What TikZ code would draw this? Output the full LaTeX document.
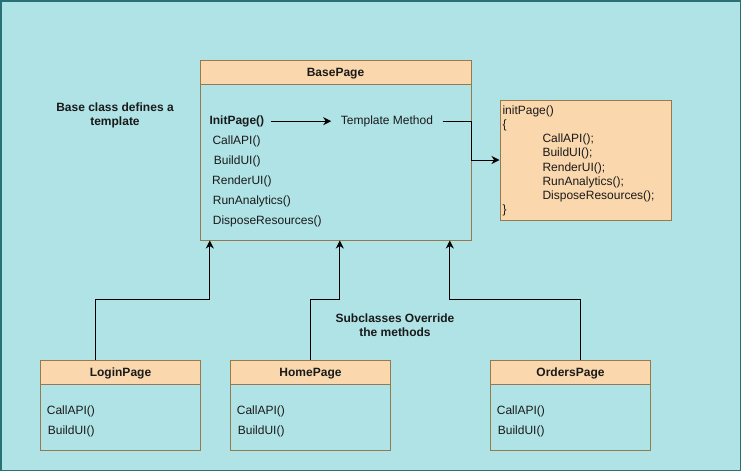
\documentclass[tikz,border=0pt]{standalone}
\usepackage{fontspec}
\setmainfont{Liberation Sans}
\usetikzlibrary{arrows.meta,calc}
\definecolor{bgc}{HTML}{B0E3E6}
\definecolor{frame}{HTML}{2A7176}
\definecolor{hdrfill}{HTML}{FAD7AC}
\definecolor{boxline}{HTML}{957A4E}
\definecolor{ink}{HTML}{1A1A1A}
\tikzset{
  hdr/.style={draw=boxline, fill=hdrfill, line width=1pt, minimum width=160pt, minimum height=24pt, inner sep=0pt, text height=8.6pt, text depth=0pt, font=\bfseries\fontsize{12}{14.2}\selectfont, text=ink},
  bodybox/.style={draw=boxline, line width=1pt, minimum width=160pt, inner sep=0pt},
  txt/.style={anchor=base west, inner sep=0pt, text=ink},
  lbl/.style={align=center, inner sep=0pt, text=ink, font=\bfseries\fontsize{12}{14}\selectfont},
  arr/.style={draw=black, line width=1pt, -{Stealth[length=8pt,width=8pt,inset=2.5pt]}},
}
\begin{document}
\begin{tikzpicture}[x=1pt,y=-1pt, font=\fontsize{12}{14.2}\selectfont]
\fill[bgc] (0,0) rectangle (741,471);
\draw[frame, line width=1.5pt] (0.75,0.75) rectangle (740.25,470.25);
\useasboundingbox (0,0) rectangle (741,471);

% BasePage
\node[hdr, minimum width=271pt, minimum height=23.5pt] (baseH) at (335.5,72.3) {BasePage};
\node[bodybox, minimum width=271pt, minimum height=156pt] (baseB) at (335.5,162) {};
\node[txt, font=\bfseries\fontsize{12}{14.2}\selectfont] (iP) at (209.3,124.3) {InitPage()};
\node[txt] (tm) at (340.7,124.3) {Template Method};
\node[txt] (b1) at (212.3,144.3) {CallAPI()};
\node[txt] (b2) at (213.7,164.3) {BuildUI()};
\node[txt] (b3) at (212.0,184.3) {RenderUI()};
\node[txt] (b4) at (212.7,204.3) {RunAnalytics()};
\node[txt] (b5) at (212.7,224.3) {DisposeResources()};
\draw[arr, shorten <=6.5pt, shorten >=9.5pt] (iP.east) -- (tm.west |- iP.east);

% code box
\node[draw=boxline, fill=hdrfill, line width=1pt, minimum width=171pt, minimum height=120pt, inner sep=0pt] (code) at (585.5,160) {};
\node[txt] (c0) at (502.3,114.3) {initPage()};
\node[txt] (c1) at (502.3,128.5) {\{};
\node[txt] (c2) at (542.3,142.7) {CallAPI();};
\node[txt] (c3) at (542.3,156.9) {BuildUI();};
\node[txt] (c4) at (542.3,171.1) {RenderUI();};
\node[txt] (c5) at (542.3,185.3) {RunAnalytics();};
\node[txt] (c6) at (542.3,199.5) {DisposeResources();};
\node[txt] (c7) at (502.3,213.7) {\}};
\draw[arr, shorten <=9.4pt] (tm.east |- iP.east) -- ($(baseB.east |- iP.east)$) |- (code.west);

% labels
\node[lbl] (lb1) at (115,115.3) {Base class defines a\\template};
\node[lbl] (lb2) at (395,325) {Subclasses Override\\the methods};

% subclasses
\node[hdr] (loginH) at (120.5,372) {LoginPage};
\node[bodybox, minimum height=66pt] (loginB) at (120.5,417) {};
\node[txt] (l1) at (46.7,414.3) {CallAPI()};
\node[txt] (l2) at (47.7,434.3) {BuildUI()};

\node[hdr] (homeH) at (310.5,372) {HomePage};
\node[bodybox, minimum height=66pt] (homeB) at (310.5,417) {};
\node[txt] (h1) at (236.7,414.3) {CallAPI()};
\node[txt] (h2) at (237.7,434.3) {BuildUI()};

\node[hdr] (ordH) at (570.5,372) {OrdersPage};
\node[bodybox, minimum height=66pt] (ordB) at (570.5,417) {};
\node[txt] (o1) at (496.7,414.3) {CallAPI()};
\node[txt] (o2) at (497.7,434.3) {BuildUI()};

% inheritance connectors
\draw[arr] ($(loginH.north)+(-25.2,0)$) -- ++(0,-60) -| ($(baseB.south west)+(10.3,0)$);
\draw[arr] (homeH.north) -- ++(0,-60) -| ($(baseB.south west)+(140.3,0)$);
\draw[arr] ($(ordH.north)+(9.8,0)$) -- ++(0,-60) -| ($(baseB.south west)+(250.3,0)$);
\end{tikzpicture}
\end{document}
